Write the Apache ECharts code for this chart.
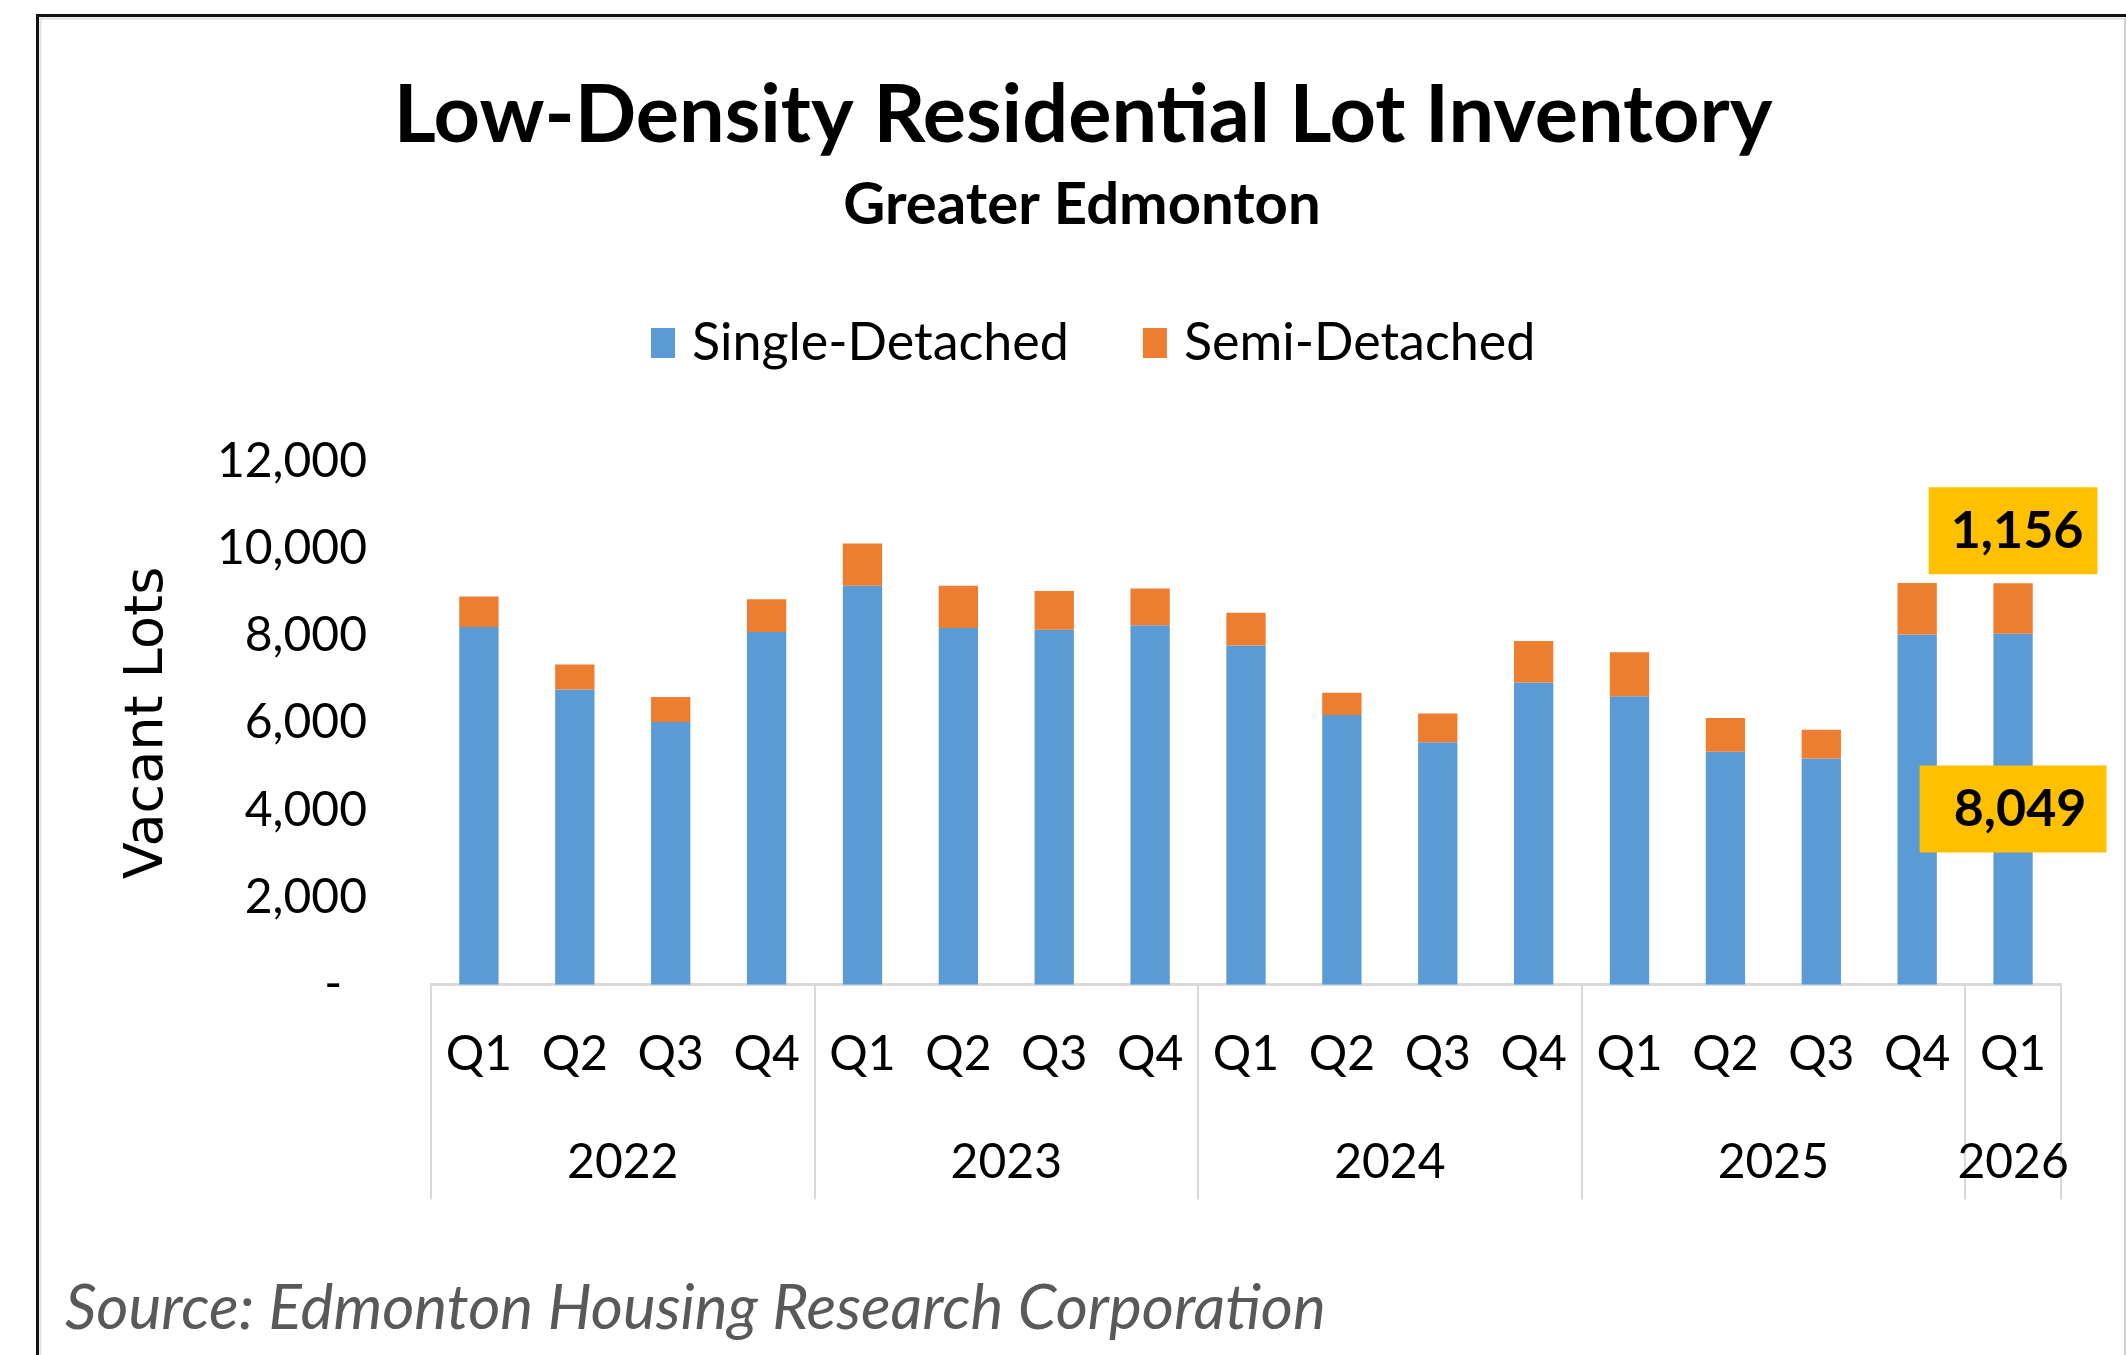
<!DOCTYPE html>
<html>
<head>
<meta charset="utf-8">
<title>Low-Density Residential Lot Inventory</title>
<script src="https://cdn.jsdelivr.net/npm/echarts@6/dist/echarts.min.js"></script>
<style>
  html, body { margin: 0; padding: 0; background: #fff; }
  #main { width: 2126px; height: 1355px; }
</style>
</head>
<body>
<div id="main"></div>
<script>
// one entry per bar
var quarters = ["Q1", "Q2", "Q3", "Q4", "Q1", "Q2", "Q3", "Q4", "Q1", "Q2", "Q3", "Q4", "Q1", "Q2", "Q3", "Q4", "Q1"];
var yearOfBar = ["2022", "2022", "2022", "2022", "2023", "2023", "2023", "2023", "2024", "2024", "2024", "2024", "2025", "2025", "2025", "2025", "2026"];
var singleDetached = [8200, 6770, 6025, 8090, 9150, 8180, 8140, 8240, 7780, 6185, 5560, 6930, 6615, 5340, 5185, 8030, 8049];
var semiDetached = [705, 575, 570, 750, 970, 970, 890, 845, 750, 510, 660, 950, 1010, 775, 660, 1185, 1156];
var yTicks = [0, 2000, 4000, 6000, 8000, 10000, 12000];

var FONT = "Lato";
var last = singleDetached.length - 1;

// year groups: where each starts and its middle, in bar units
var groupStart = {};
var groupEnd = {};
yearOfBar.forEach(function (y, i) {
  if (groupStart[y] === undefined) groupStart[y] = i;
  groupEnd[y] = i + 1;
});
var years = Object.keys(groupStart);
var yearCenters = years.map(function (y) {
  return (groupStart[y] + groupEnd[y]) / 2;
});

function fmt(v) {
  return v.toLocaleString("en-US");
}

var chart = echarts.init(document.getElementById("main"));

var calloutStyle = {
  show: true,
  color: "#000",
  fontFamily: FONT,
  fontWeight: "bold",
  fontSize: 52,
  backgroundColor: "#FFC000",
  formatter: function (p) {
    return fmt(p.value);
  },
};

var option = {
  animation: false,
  backgroundColor: "#fff",
  title: [
    {
      text: "Low-Density Residential Lot Inventory",
      left: 1083,
      top: 75,
      padding: 0,
      textAlign: "center",
      textStyle: { fontFamily: FONT, fontWeight: "bold", fontSize: 81, color: "#000" },
    },
    {
      text: "Greater Edmonton",
      left: 1082,
      top: 176,
      padding: 0,
      textAlign: "center",
      textStyle: { fontFamily: FONT, fontWeight: "bold", fontSize: 58, color: "#000" },
    },
    {
      text: "Source: Edmonton Housing Research Corporation",
      left: 65,
      top: 1278,
      padding: 0,
      textStyle: { fontFamily: FONT, fontStyle: "italic", fontWeight: "normal", fontSize: 62, color: "#595959" },
    },
  ],
  legend: {
    data: ["Single-Detached", "Semi-Detached"],
    left: 651,
    top: 317,
    padding: 0,
    icon: "rect",
    itemWidth: 24,
    itemHeight: 30,
    itemGap: 74,
    textStyle: { fontFamily: FONT, fontSize: 52, color: "#000", padding: [0, 0, 0, 12] },
  },
  grid: [
    { left: 431, right: 65, top: 461.5, bottom: 370.5 },
    { left: 431, right: 65, top: 461.5, bottom: 370.5 },
  ],
  xAxis: [
    {
      type: "category",
      gridIndex: 0,
      data: quarters,
      axisLine: { lineStyle: { color: "#d9d9d9", width: 3 } },
      axisTick: {
        show: true,
        length: 215,
        interval: function (i) {
          return i === 0 || yearOfBar[i] !== yearOfBar[i - 1];
        },
        lineStyle: { color: "#d9d9d9", width: 2 },
      },
      axisLabel: { interval: 0, margin: 46, fontFamily: FONT, fontSize: 48, color: "#000" },
    },
    {
      // year row under the quarters
      type: "value",
      gridIndex: 1,
      min: 0,
      max: quarters.length,
      axisLine: { show: false },
      axisTick: { show: false },
      splitLine: { show: false },
      axisLabel: {
        customValues: yearCenters,
        margin: 154,
        fontFamily: FONT,
        fontSize: 48,
        color: "#000",
        formatter: function (v) {
          return years[yearCenters.indexOf(v)] || "";
        },
      },
    },
  ],
  yAxis: [
    {
      type: "value",
      gridIndex: 0,
      min: yTicks[0],
      max: yTicks[yTicks.length - 1],
      interval: yTicks[1] - yTicks[0],
      axisLine: { show: false },
      axisTick: { show: false },
      splitLine: { show: false },
      axisLabel: {
        margin: 64,
        fontFamily: FONT,
        fontSize: 48,
        color: "#000",
        formatter: function (v) {
          return v === 0 ? "{z|-}" : fmt(v);
        },
        rich: {
          z: { fontFamily: FONT, fontSize: 48, color: "#000", padding: [0, 25, 0, 0] },
        },
      },
      name: "Vacant Lots",
      nameLocation: "middle",
      nameRotate: 90,
      nameGap: 256,
      nameTextStyle: { fontFamily: "DejaVu Sans", fontSize: 54, color: "#000" },
    },
    { type: "value", gridIndex: 1, show: false },
  ],
  series: [
    {
      name: "Single-Detached",
      type: "bar",
      stack: "lots",
      barWidth: "41%",
      itemStyle: { color: "#5B9BD5" },
      data: singleDetached.map(function (v, i) {
        if (i !== last) return v;
        return {
          value: v,
          label: Object.assign({}, calloutStyle, { position: "inside", padding: [18, 20, 17, 34] }),
        };
      }),
    },
    {
      name: "Semi-Detached",
      type: "bar",
      stack: "lots",
      barWidth: "41%",
      itemStyle: { color: "#ED7D31" },
      data: semiDetached.map(function (v, i) {
        if (i !== last) return v;
        return {
          value: v,
          label: Object.assign({}, calloutStyle, { position: "top", distance: 9, padding: [18, 14, 17, 22] }),
        };
      }),
    },
  ],
  graphic: [
    // frame of the original slide, cut off at right and bottom
    {
      type: "rect",
      silent: true,
      z: -10,
      shape: { x: 40.5, y: 18.5, width: 2300, height: 1500 },
      style: { fill: "none", stroke: "#e2e2e2", lineWidth: 2 },
    },
    {
      type: "rect",
      silent: true,
      z: -9,
      shape: { x: 37.5, y: 15.5, width: 2300, height: 1500 },
      style: { fill: "none", stroke: "#111", lineWidth: 3 },
    },
    {
      type: "line",
      silent: true,
      shape: { x1: 2125, y1: 18, x2: 2125, y2: 1355 },
      style: { stroke: "#cfcfcf", lineWidth: 2 },
    },
  ],
};

chart.setOption(option);
</script>
</body>
</html>
